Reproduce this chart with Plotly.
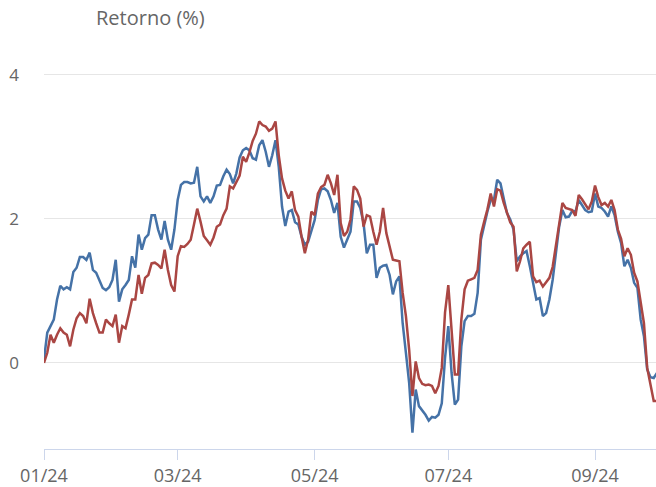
import pandas as pd
import plotly.graph_objects as go

# ---- data ----
HOLIDAYS = ["2024-01-01", "2024-02-12", "2024-02-13", "2024-03-29", "2024-05-01", "2024-05-30"]

SERIES_A = [
    0.05, 0.42, 0.51, 0.60, 0.88, 1.07, 1.02, 1.05, 1.02, 1.26,
    1.32, 1.47, 1.47, 1.43, 1.53, 1.29, 1.25, 1.15, 1.04, 1.01,
    1.05, 1.15, 1.43, 0.85, 1.02, 1.08, 1.15, 1.48, 1.32, 1.78,
    1.57, 1.73, 1.78, 2.05, 2.05, 1.85, 1.71, 1.97, 1.71, 1.57,
    1.85, 2.26, 2.47, 2.51, 2.51, 2.49, 2.50, 2.72, 2.31, 2.24,
    2.31, 2.22, 2.31, 2.46, 2.47, 2.59, 2.68, 2.62, 2.49, 2.63,
    2.85, 2.95, 2.98, 2.95, 2.84, 2.82, 3.02, 3.09, 2.93, 2.72,
    2.88, 3.09, 2.72, 2.17, 1.90, 2.10, 2.12, 1.95, 1.92, 1.75,
    1.64, 1.68, 1.82, 1.98, 2.26, 2.41, 2.42, 2.38, 2.26, 2.08,
    2.22, 1.75, 1.60, 1.71, 1.82, 2.24, 2.24, 2.15, 1.94, 1.52,
    1.64, 1.64, 1.18, 1.32, 1.35, 1.36, 1.22, 0.95, 1.13, 1.20,
    0.55, 0.14, -0.28, -0.97, -0.37, -0.60, -0.66, -0.72, -0.80, -0.75,
    -0.76, -0.72, -0.56, 0.07, 0.51, -0.14, -0.58, -0.51, 0.23, 0.58,
    0.65, 0.65, 0.68, 0.97, 1.71, 1.91, 2.10, 2.26, 2.26, 2.54,
    2.49, 2.28, 2.08, 1.99, 1.85, 1.41, 1.48, 1.52, 1.55, 1.34,
    1.11, 0.88, 0.90, 0.65, 0.69, 0.88, 1.15, 1.52, 1.89, 2.12,
    2.02, 2.03, 2.11, 2.10, 2.26, 2.19, 2.12, 2.09, 2.10, 2.35,
    2.17, 2.15, 2.10, 2.03, 2.17, 2.05, 1.82, 1.66, 1.34, 1.43,
    1.32, 1.11, 1.04, 0.60, 0.37, -0.09, -0.20, -0.21, -0.14,
]

SERIES_B = [
    0.00, 0.14, 0.39, 0.28, 0.39, 0.48, 0.42, 0.39, 0.23, 0.46,
    0.62, 0.69, 0.65, 0.55, 0.89, 0.69, 0.55, 0.42, 0.42, 0.60,
    0.55, 0.51, 0.67, 0.28, 0.51, 0.48, 0.67, 0.88, 0.88, 1.22,
    0.96, 1.18, 1.22, 1.38, 1.39, 1.36, 1.31, 1.57, 1.29, 1.08,
    0.99, 1.48, 1.62, 1.61, 1.65, 1.71, 1.92, 2.14, 1.96, 1.76,
    1.70, 1.64, 1.74, 1.89, 1.92, 2.05, 2.14, 2.45, 2.42, 2.51,
    2.60, 2.86, 2.79, 2.92, 3.08, 3.18, 3.35, 3.30, 3.28, 3.22,
    3.25, 3.35, 2.88, 2.56, 2.39, 2.28, 2.38, 2.12, 2.03, 1.75,
    1.52, 1.71, 2.10, 2.05, 2.35, 2.44, 2.47, 2.61, 2.49, 2.33,
    2.61, 1.94, 1.76, 1.82, 1.99, 2.45, 2.40, 2.28, 1.89, 2.05,
    2.03, 1.82, 1.64, 1.82, 2.15, 1.80, 1.62, 1.43, 1.42, 1.41,
    0.97, 0.65, 0.18, -0.46, 0.02, -0.21, -0.29, -0.31, -0.30, -0.32,
    -0.42, -0.32, -0.07, 0.70, 1.08, 0.41, -0.16, -0.16, 0.60, 1.02,
    1.14, 1.16, 1.18, 1.29, 1.78, 1.96, 2.13, 2.35, 2.17, 2.41,
    2.39, 2.22, 2.09, 1.95, 1.89, 1.27, 1.41, 1.59, 1.64, 1.68,
    1.20, 1.12, 1.14, 1.06, 1.12, 1.18, 1.33, 1.62, 1.96, 2.22,
    2.15, 2.14, 2.12, 2.04, 2.33, 2.27, 2.19, 2.13, 2.24, 2.46,
    2.30, 2.19, 2.22, 2.17, 2.26, 2.12, 1.85, 1.72, 1.48, 1.59,
    1.50, 1.25, 1.13, 0.83, 0.55, -0.07, -0.32, -0.53, -0.53,
]

TICK_DATES = ["2024-01-02", "2024-03-01", "2024-05-02", "2024-07-01", "2024-09-02"]
TICK_LABELS = ["01/24", "03/24", "05/24", "07/24", "09/24"]
Y_TICKS = [0, 2, 4]

DATES = [d.strftime("%Y-%m-%d") for d in
         pd.bdate_range("2024-01-02", periods=len(SERIES_A), freq="C", holidays=HOLIDAYS)]

FONT = "Open Sans, Noto Sans, sans-serif"

fig = go.Figure()
fig.add_trace(go.Scatter(x=DATES, y=SERIES_A, mode="lines", name="Fundo",
                         line=dict(color="#4572A7", width=2.5)))
fig.add_trace(go.Scatter(x=DATES, y=SERIES_B, mode="lines", name="Benchmark",
                         line=dict(color="#AA4643", width=2.5)))

fig.update_layout(
    width=656, height=487,
    margin=dict(l=44, r=0, t=71, b=38, autoexpand=False),
    paper_bgcolor="white", plot_bgcolor="white",
    showlegend=False,
    font=dict(family=FONT, color="#666666"),
    xaxis=dict(
        type="category", automargin=False,
        range=[0, 187.7],
        tickmode="array", tickvals=TICK_DATES, ticktext=TICK_LABELS,
        showgrid=False, zeroline=False,
        showline=True, linecolor="#ccd6eb", linewidth=1,
        ticks="outside", ticklen=10, tickcolor="#ccd6eb", tickwidth=1,
        ticklabelstandoff=0,
        tickfont=dict(size=18, color="#666666", family=FONT),
    ),
    yaxis=dict(
        automargin=False,
        range=[-1.195, 4.05],
        tickmode="array", tickvals=Y_TICKS,
        showgrid=True, gridcolor="#e6e6e6", gridwidth=1,
        zeroline=False, showline=False,
        ticks="", ticklabelstandoff=24,
        tickfont=dict(size=17, color="#666666", family=FONT),
    ),
    annotations=[dict(
        text="Retorno (%)", xref="paper", yref="paper",
        x=(94 - 44) / 612, y=1 + (71 - 18) / 378,
        xanchor="left", yanchor="middle", showarrow=False,
        font=dict(size=20, color="#666666", family=FONT),
    )],
)

fig.write_html(
    "out.html",
    config={"displayModeBar": False},
    post_script="document.body.style.margin='0px'; document.body.style.overflow='hidden';",
)
